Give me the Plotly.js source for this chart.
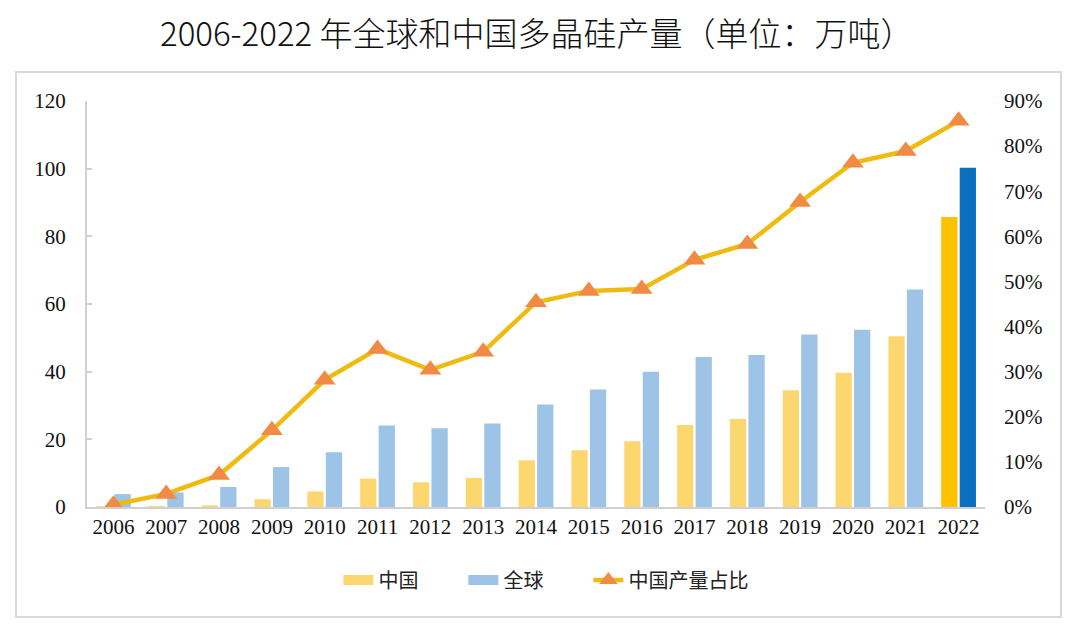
<!DOCTYPE html>
<html>
<head>
<meta charset="utf-8">
<script src="https://cdn.plot.ly/plotly-3.0.1.min.js"></script>
<style>html,body{margin:0;padding:0;background:#fff;}#chart{width:1080px;height:635px;}</style>
</head>
<body>
<div id="chart"></div>
<script>
const years = ['2006','2007','2008','2009','2010','2011','2012','2013','2014','2015','2016','2017','2018','2019','2020','2021','2022'];
const chinaOutput = [0.2, 0.3, 0.5, 2.3, 4.6, 8.4, 7.3, 8.6, 13.8, 16.8, 19.4, 24.2, 26.0, 34.5, 39.7, 50.5, 85.7];
const globalOutput = [3.8, 4.3, 5.9, 11.8, 16.2, 24.1, 23.3, 24.7, 30.3, 34.7, 40.0, 44.3, 44.9, 51.0, 52.4, 64.3, 100.3];
const chinaShare = [0.005, 0.029, 0.071, 0.170, 0.282, 0.350, 0.304, 0.344, 0.454, 0.479, 0.483, 0.548, 0.583, 0.676, 0.763, 0.789, 0.856];
const leftTicks = [0, 20, 40, 60, 80, 100, 120];
const rightTicks = [0, 0.1, 0.2, 0.3, 0.4, 0.5, 0.6, 0.7, 0.8, 0.9];

const chinaColors = years.map((y, i) => i === years.length - 1 ? '#FFC000' : '#FCD66E');
const globalColors = years.map((y, i) => i === years.length - 1 ? '#0A6FBE' : '#9DC3E6');

const serif = 'Liberation Serif, Times New Roman, serif';
const cjk = 'Noto Sans CJK SC, sans-serif';

const traces = [
  {type: 'bar', name: '中国', x: years, y: chinaOutput, marker: {color: chinaColors}, showlegend: false},
  {type: 'bar', name: '全球', x: years, y: globalOutput, marker: {color: globalColors}, showlegend: false},
  {type: 'scatter', mode: 'lines', name: '中国\u3000\u3000', x: [null], y: [null], line: {color: '#FCD66E', width: 10}, legendrank: 1},
  {type: 'scatter', mode: 'lines', name: '全球\u3000\u3000', x: [null], y: [null], line: {color: '#9DC3E6', width: 10}, legendrank: 2},
  {type: 'scatter', mode: 'lines+markers', name: '中国产量占比', x: years, y: chinaShare, yaxis: 'y2',
   line: {color: '#F0BB10', width: 4.5}, legendrank: 3,
   marker: {symbol: 'triangle-up', size: 19, color: '#F08A45'}}
];

const layout = {
  width: 1080, height: 635,
  paper_bgcolor: '#fff', plot_bgcolor: '#fff',
  margin: {l: 87, r: 95, t: 101, b: 128},
  title: {text: '2006-2022 年全球和中国多晶硅产量（单位：万吨）', x: 0.497, xanchor: 'center', y: 0.945, yanchor: 'middle',
          font: {family: cjk, size: 33, color: '#111', weight: 300}},
  barmode: 'group', bargap: 0.3, bargroupgap: 0.12,
  showlegend: true,
  legend: {orientation: 'h', x: 0.511, xanchor: 'center', y: -0.18, yanchor: 'middle',
           font: {family: cjk, size: 20, color: '#222'}, traceorder: 'normal'},
  xaxis: {type: 'category', range: [-0.5, 16.5], tickvals: years, ticktext: years, showgrid: false, zeroline: false,
          showline: true, linecolor: '#D0D0D0', linewidth: 2, ticks: '',
          tickfont: {family: serif, size: 21, color: '#111'}},
  yaxis: {range: [0, 120], tickvals: leftTicks, showgrid: false, zeroline: false,
          showline: true, linecolor: '#D0D0D0', linewidth: 2, ticks: 'inside', ticklen: 5, tickcolor: '#D0D0D0', tickwidth: 2,
          ticklabelstandoff: 15,
          tickfont: {family: serif, size: 21, color: '#111'}},
  yaxis2: {overlaying: 'y', side: 'right', range: [0, 0.9], tickvals: rightTicks, tickformat: '.0%',
           showgrid: false, zeroline: false, showline: false, ticks: '', ticklabelstandoff: 18,
           tickfont: {family: serif, size: 21, color: '#111'}},
  shapes: [
    {type: 'rect', xref: 'paper', yref: 'paper', x0: -71/898, x1: 1061/898 - 87/898, y0: -110/406, y1: 435/406,
     line: {color: '#D9D9D9', width: 2}, fillcolor: 'rgba(0,0,0,0)', layer: 'below'}
  ]
};

Plotly.newPlot('chart', traces, layout, {displayModeBar: false, staticPlot: true});
</script>
</body>
</html>
